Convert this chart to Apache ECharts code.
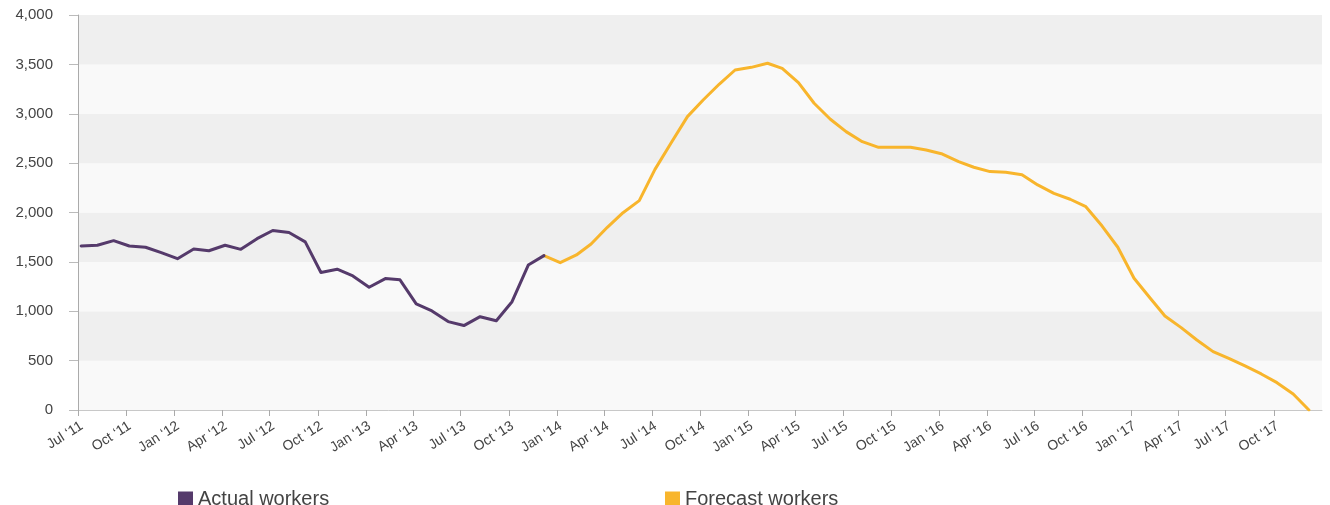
<!DOCTYPE html>
<html>
<head>
<meta charset="utf-8">
<script src="https://cdn.jsdelivr.net/npm/echarts@6/dist/echarts.min.js"></script>
<style>
html,body{margin:0;padding:0;background:#fff;}
#chart{width:1330px;height:505px;}
</style>
</head>
<body>
<div id="chart"></div>
<script>
// ---- data ----
const seriesNames = ['Actual workers', 'Forecast workers'];
const actualStart = '2011-07';   // first month of actual series
const forecastStart = '2013-12'; // first month of forecast series
const actualWorkers = [1661, 1668, 1715, 1661, 1648, 1593, 1532, 1630, 1613, 1668, 1627, 1735,
  1818, 1797, 1703, 1392, 1426, 1358, 1243, 1331, 1318, 1074, 1003, 895,
  855, 945, 904, 1097, 1468, 1563];
const forecastWorkers = [1563,
  1492, 1570, 1681, 1850, 1998, 2120, 2437, 2707, 2971, 3139, 3301, 3443,
  3470, 3511, 3460, 3315, 3106, 2944, 2819, 2717, 2660, 2660, 2660, 2633,
  2592, 2515, 2458, 2414, 2407, 2383, 2279, 2194, 2134, 2059, 1863, 1648,
  1334, 1131, 952, 834, 709, 591, 523, 446, 365, 277, 162, 0];
const monthNames = ['Jan','Feb','Mar','Apr','May','Jun','Jul','Aug','Sep','Oct','Nov','Dec'];
const xRange = ['2011-07-01', '2018-01-01'];
const yTicks = {min: 0, max: 4000, step: 500};

// ---- helpers ----
function monthDate(start, i) {
  const p = start.split('-').map(Number);
  return new Date(p[0], p[1] - 1 + i, 7).getTime();
}
function toPairs(start, vals) {
  return vals.map((v, i) => [monthDate(start, i), v]);
}
function parseDay(s) {
  const p = s.split('-').map(Number);
  return new Date(p[0], p[1] - 1, p[2]).getTime();
}
const QUARTER = 91 * 24 * 3600 * 1000;

const chart = echarts.init(document.getElementById('chart'), null, {renderer: 'canvas'});
const FONT = 'Liberation Sans, Arial, sans-serif';
chart.setOption({
  animation: false,
  grid: {left: 78, right: 8, top: 15, bottom: 95, containLabel: false},
  legend: [
    {data: [seriesNames[0]], left: 173, top: 484, icon: 'rect', itemWidth: 15, itemHeight: 15, itemGap: 10,
     textStyle: {fontFamily: FONT, fontSize: 20, color: '#444'}},
    {data: [seriesNames[1]], left: 660, top: 484, icon: 'rect', itemWidth: 15, itemHeight: 15, itemGap: 10,
     textStyle: {fontFamily: FONT, fontSize: 20, color: '#444'}}
  ],
  xAxis: {
    type: 'time',
    min: parseDay(xRange[0]),
    max: parseDay(xRange[1]),
    minInterval: QUARTER,
    maxInterval: QUARTER,
    axisLine: {show: true, lineStyle: {color: '#c8c8c8', width: 1}},
    axisTick: {show: true, length: 6, lineStyle: {color: '#aaa'}},
    splitLine: {show: false},
    axisLabel: {
      rotate: 32,
      margin: 9,
      verticalAlign: 'top',
      fontFamily: FONT,
      fontSize: 14,
      color: '#444',
      showMaxLabel: false,
      showMinLabel: true,
      hideOverlap: false,
      formatter: function (value) {
        const d = new Date(value);
        return monthNames[d.getMonth()] + ' \u2018' + String(d.getFullYear()).slice(2);
      }
    }
  },
  yAxis: {
    type: 'value',
    min: yTicks.min,
    max: yTicks.max,
    interval: yTicks.step,
    axisLine: {show: true, lineStyle: {color: '#aaa', width: 1}},
    axisTick: {show: true, length: 9, lineStyle: {color: '#bbb'}},
    splitLine: {show: false},
    splitArea: {show: true, areaStyle: {color: ['#f9f9f9', '#efefef']}},
    axisLabel: {
      margin: 25,
      fontFamily: FONT,
      fontSize: 15,
      color: '#444',
      formatter: function (v) { return v.toLocaleString('en-US'); }
    }
  },
  series: [
    {
      name: seriesNames[0], type: 'line', data: toPairs(actualStart, actualWorkers),
      symbol: 'none', color: '#553a6b',
      lineStyle: {width: 3, color: '#553a6b', join: 'round', cap: 'round'}, z: 3
    },
    {
      name: seriesNames[1], type: 'line', data: toPairs(forecastStart, forecastWorkers),
      symbol: 'none', color: '#f8b52c',
      lineStyle: {width: 3, color: '#f8b52c', join: 'round', cap: 'round'}, z: 2
    }
  ]
});
</script>
</body>
</html>
